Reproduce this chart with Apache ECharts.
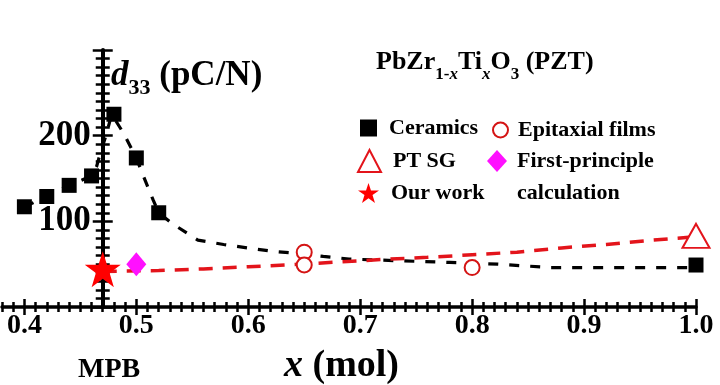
<!DOCTYPE html>
<html><head><meta charset="utf-8">
<script src="https://cdn.jsdelivr.net/npm/echarts@6/dist/echarts.min.js"></script>
<style>html,body{margin:0;padding:0;background:#fff}#c{width:720px;height:385px}</style>
</head><body><div id="c"></div>
<script>
// ---- data ----
const ceramicsX = [0.40, 0.42, 0.44, 0.46, 0.48, 0.50, 0.52, 1.00];
const ceramicsY = [117, 129, 142, 153, 225, 174, 110, 49];
const epitaxialX = [0.65, 0.65, 0.80];
const epitaxialY = [64, 49, 46];
const ptsgX = [1.00];
const ptsgY = [83];
const firstPrincipleX = [0.50];
const firstPrincipleY = [50];
const ourWorkX = [0.47];
const ourWorkY = [44];
const ceramicsFitX = [0.40, 0.42, 0.44, 0.46, 0.4645, 0.4675, 0.4735, 0.478, 0.4885, 0.50, 0.506, 0.515, 0.52, 0.5325, 0.555, 0.578, 0.602, 0.622, 0.6445, 0.667, 0.69, 0.712, 0.757, 0.78, 0.803, 0.823, 0.87, 1.00];
const ceramicsFitY = [117, 129, 142, 153, 164, 178, 203, 225, 203, 174, 154, 125, 110, 97, 78, 73, 68.5, 65, 62.5, 59, 56, 55, 53, 52, 51, 50, 46, 46];
const calcFitX = [0.47, 0.52, 0.56, 0.60, 0.64, 0.68, 0.72, 0.76, 0.80, 0.84, 0.88, 0.92, 0.96, 1.00];
const calcFitY = [41.5, 42.5, 44.5, 47, 49.5, 52.5, 55.5, 58, 61, 64, 69, 73, 78, 82];
const xTickValues = [0.4, 0.5, 0.6, 0.7, 0.8, 0.9, 1.0];
const xTickLabels = ['0.4', '0.5', '0.6', '0.7', '0.8', '0.9', '1.0'];
const yTickValues = [100, 200];
const yTickLabels = ['100', '200'];
const xMin = 0.38, xMax = 1.0, yMin = 0, yMax = 300;
const mpbX = 0.47;

// ---- layout ----
const W = 720;
const grid = {left: 2, right: 24, top: 50, bottom: 78};
const yAxisOffset = -((mpbX - xMin) / (xMax - xMin) * (W - grid.left - grid.right));

const xMinor = []; for (let i = 38; i <= 100; i++) xMinor.push(i / 100);
const yMinor = []; for (let i = 0; i <= 300; i += 10) yMinor.push(i);
const yMajorAll = [0, 100, 200, 300];

const zip = (a, b) => a.map((v, i) => [v, b[i]]);
const serif = 'Liberation Serif';
const star = 'path://M50,0 L61.8,35.4 L100,35.4 L69.1,57.3 L80.9,95.1 L50,72.4 L19.1,95.1 L30.9,57.3 L0,35.4 L38.2,35.4 Z';

function xAx(opts) {
  return Object.assign({
    type: 'value', min: xMin, max: xMax, position: 'bottom',
    axisLine: {show: false}, splitLine: {show: false},
    axisLabel: {show: false}, axisTick: {show: false}
  }, opts);
}
function yAx(opts) {
  return Object.assign({
    type: 'value', min: yMin, max: yMax, position: 'left', offset: yAxisOffset,
    axisLine: {show: false}, splitLine: {show: false},
    axisLabel: {show: false}, axisTick: {show: false}
  }, opts);
}
const tickStyle = {color: '#000', width: 2.5};
const legendText = {fontFamily: serif, fontWeight: 'bold', fontSize: 22, color: '#000', padding: [0, 0, 0, 7]};
const legendBase = {orient: 'vertical', padding: 0, selectedMode: false, textStyle: legendText};

const option = {
  backgroundColor: '#fff',
  animation: false,
  grid: Object.assign({outerBoundsMode: 'none', containLabel: false}, grid),
  title: [
    {left: 106, top: 48, text: '{i|d}{s|33}{n| (pC/N)}',
     textStyle: {rich: {
       i: {fontFamily: serif, fontStyle: 'italic', fontWeight: 'bold', fontSize: 35, lineHeight: 46, color: '#000'},
       s: {fontFamily: serif, fontWeight: 'bold', fontSize: 22, lineHeight: 22, verticalAlign: 'bottom', color: '#000'},
       n: {fontFamily: serif, fontWeight: 'bold', fontSize: 35, lineHeight: 46, color: '#000'}
     }}},
    {left: 371, top: 36, text: '{n|PbZr}{s|1-}{si|x}{n|Ti}{si|x}{n|O}{s|3}{n| (PZT)}',
     textStyle: {rich: {
       n: {fontFamily: serif, fontWeight: 'bold', fontSize: 26, lineHeight: 42, color: '#000'},
       s: {fontFamily: serif, fontWeight: 'bold', fontSize: 17, lineHeight: 13, verticalAlign: 'bottom', color: '#000'},
       si: {fontFamily: serif, fontWeight: 'bold', fontStyle: 'italic', fontSize: 17, lineHeight: 13, verticalAlign: 'bottom', color: '#000'}
     }}},
    {left: 512, top: 177, text: 'calculation', textStyle: legendText},
    {left: 73, top: 349, text: 'MPB',
     textStyle: {fontFamily: serif, fontWeight: 'bold', fontSize: 28, lineHeight: 32, color: '#000'}},
    {left: 279, top: 340, text: '{i|x}{n| (mol)}',
     textStyle: {rich: {
       i: {fontFamily: serif, fontStyle: 'italic', fontWeight: 'bold', fontSize: 38, lineHeight: 42, color: '#000'},
       n: {fontFamily: serif, fontWeight: 'bold', fontSize: 38, lineHeight: 42, color: '#000'}
     }}}
  ],
  legend: [
    Object.assign({}, legendBase, {left: 360, top: 117, itemWidth: 17, itemHeight: 17, data: ['Ceramics']}),
    Object.assign({}, legendBase, {left: 357, top: 149, itemWidth: 23, itemHeight: 22, data: ['PT SG']}),
    Object.assign({}, legendBase, {left: 358, top: 182, itemWidth: 21, itemHeight: 21, data: ['Our work']}),
    Object.assign({}, legendBase, {left: 492, top: 119, itemWidth: 15, itemHeight: 15, data: ['Epitaxial films'],
      textStyle: Object.assign({}, legendText, {padding: [0, 0, 0, 5]})}),
    Object.assign({}, legendBase, {left: 487, top: 150, itemWidth: 20, itemHeight: 22,
      data: ['First-principle calculation'],
      formatter: () => 'First-principle',
      textStyle: Object.assign({}, legendText, {padding: [0, 0, 0, 5]})})
  ],
  xAxis: [
    xAx({axisLine: {show: true, onZero: false, lineStyle: {color: '#000', width: 3.5}},
         axisTick: {show: true, inside: false, length: 8, customValues: xTickValues, lineStyle: tickStyle},
         axisLabel: {show: true, customValues: xTickValues, margin: 5,
           formatter: v => xTickLabels[xTickValues.findIndex(t => Math.abs(t - v) < 1e-6)] || '',
           fontFamily: serif, fontWeight: 'bold', fontSize: 28, color: '#000'}}),
    xAx({axisTick: {show: true, inside: true, length: 8, customValues: xTickValues, lineStyle: tickStyle}}),
    xAx({axisTick: {show: true, inside: false, length: 5, customValues: xMinor, lineStyle: tickStyle}}),
    xAx({axisTick: {show: true, inside: true, length: 5, customValues: xMinor, lineStyle: tickStyle}})
  ],
  yAxis: [
    yAx({axisLine: {show: true, onZero: false, lineStyle: {color: '#000', width: 4}},
         axisTick: {show: true, inside: false, length: 10, customValues: yMajorAll, lineStyle: tickStyle},
         axisLabel: {show: true, customValues: yTickValues, margin: 12,
           formatter: v => yTickLabels[yTickValues.indexOf(v)] || '',
           fontFamily: serif, fontWeight: 'bold', fontSize: 35, color: '#000'}}),
    yAx({axisTick: {show: true, inside: true, length: 10, customValues: yMajorAll, lineStyle: tickStyle}}),
    yAx({axisTick: {show: true, inside: false, length: 7, customValues: yMinor, lineStyle: tickStyle}}),
    yAx({axisTick: {show: true, inside: true, length: 7, customValues: yMinor, lineStyle: tickStyle}})
  ],
  series: [
    {name: 'ceramicsFit', type: 'line', data: zip(ceramicsFitX, ceramicsFitY), showSymbol: false, symbol: 'none',
     lineStyle: {color: '#000', width: 3.2, type: [10, 11]}, z: 1, silent: true},
    {name: 'calcFit', type: 'line', data: zip(calcFitX, calcFitY), showSymbol: false, symbol: 'none',
     lineStyle: {color: '#e3141b', width: 3.5, type: [14, 10]}, z: 1, silent: true},
    {name: 'Ceramics', type: 'scatter', data: zip(ceramicsX, ceramicsY), symbol: 'rect', symbolSize: 15,
     itemStyle: {color: '#000', opacity: 1}, z: 3},
    {name: 'Epitaxial films', type: 'scatter', data: zip(epitaxialX, epitaxialY), symbol: 'emptyCircle', symbolSize: 15,
     itemStyle: {color: '#d41414', borderColor: '#d41414', borderWidth: 1.5, opacity: 1}, z: 3},
    {name: 'PT SG', type: 'scatter', data: zip(ptsgX, ptsgY), symbol: 'emptyTriangle', symbolSize: [27, 24],
     itemStyle: {color: '#e3141b', borderColor: '#e3141b', borderWidth: 2.5, opacity: 1}, z: 3},
    {name: 'First-principle calculation', type: 'scatter', data: zip(firstPrincipleX, firstPrincipleY), symbol: 'diamond', symbolSize: [20, 24],
     itemStyle: {color: '#ff10ff', opacity: 1}, z: 3},
    {name: 'Our work', type: 'scatter', data: zip(ourWorkX, ourWorkY), symbol: star, symbolSize: 36,
     itemStyle: {color: '#ff0000', opacity: 1}, z: 4}
  ]
};
const chart = echarts.init(document.getElementById('c'), null, {renderer: 'canvas'});
chart.setOption(option);
</script>
</body></html>
